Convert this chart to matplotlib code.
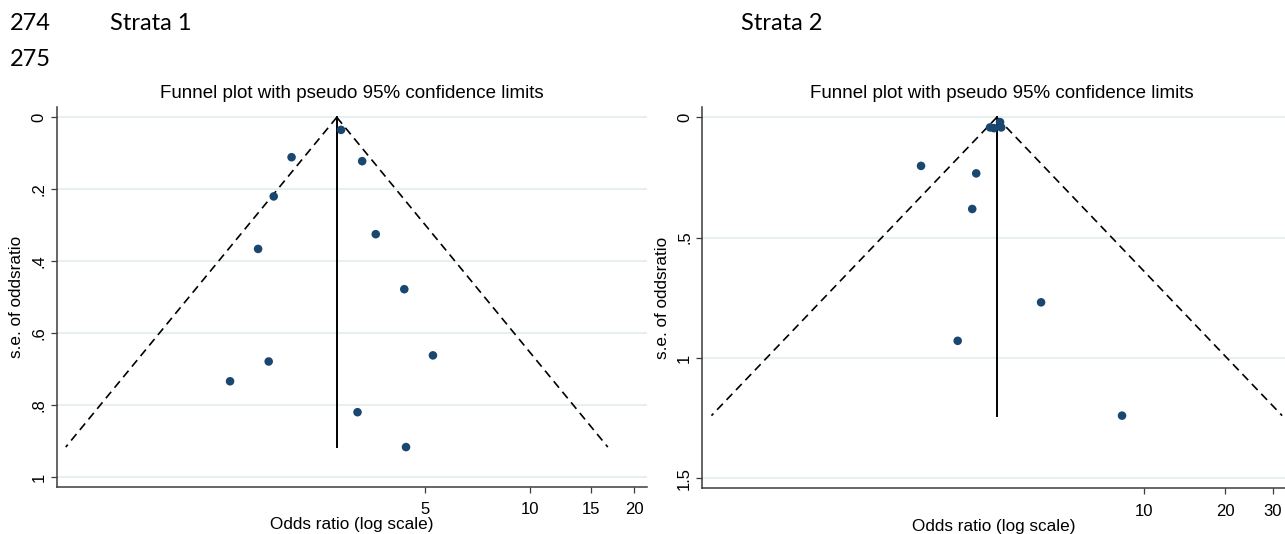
import numpy as np
import matplotlib
matplotlib.use("Agg")
import matplotlib.pyplot as plt
from matplotlib.ticker import NullLocator, FixedLocator, FixedFormatter

# Study estimates: odds ratios and their standard errors
strata1_or = [2.86, 2.06, 3.29, 1.83, 3.60, 1.65, 4.35, 5.26, 1.77, 1.37, 3.19, 4.40]
strata1_se = [0.035, 0.111, 0.122, 0.220, 0.325, 0.366, 0.478, 0.662, 0.679, 0.734, 0.820, 0.917]
strata1_pooled_or = 2.78

strata2_or = [2.70, 2.79, 2.94, 2.97, 1.50, 2.40, 2.32, 4.17, 2.05, 8.31]
strata2_se = [0.042, 0.045, 0.020, 0.042, 0.202, 0.233, 0.381, 0.769, 0.929, 1.240]
strata2_pooled_or = 2.86

strata1_xticks = [5, 10, 15, 20]
strata1_yticks = [0, 0.2, 0.4, 0.6, 0.8, 1.0]
strata1_yticklabels = ["0", ".2", ".4", ".6", ".8", "1"]

strata2_xticks = [10, 20, 30]
strata2_yticks = [0, 0.5, 1.0, 1.5]
strata2_yticklabels = ["0", ".5", "1", "1.5"]

title_text = "Funnel plot with pseudo 95% confidence limits"
xlabel_text = "Odds ratio (log scale)"
ylabel_text = "s.e. of oddsratio"

W, H = 1285, 534
fig = plt.figure(figsize=(W / 100, H / 100), dpi=100)
fig.patch.set_facecolor("white")

CHART_FONT = ["Liberation Sans", "DejaVu Sans"]
DOC_FONT = ["Lato", "DejaVu Sans"]
NAVY = "#1a476f"
GRID = "#e8eff1"
AXCOL = "#3c3c3c"


def px_axes(x0, x1, y0, y1):
    return fig.add_axes([x0 / W, 1 - y1 / H, (x1 - x0) / W, (y1 - y0) / H])


def funnel(ax, ors, ses, pooled, xlim, ylim, xticks, yticks, yticklabels, title_x):
    ors = np.asarray(ors)
    ses = np.asarray(ses)
    se_max = ses.max()
    se_line = np.array([0.0, se_max])
    lo = np.exp(np.log(pooled) - 1.96 * se_line)
    hi = np.exp(np.log(pooled) + 1.96 * se_line)

    ax.set_xscale("log")
    ax.set_xlim(*xlim)
    ax.set_ylim(*ylim)

    for t in yticks:
        ax.axhline(t, color=GRID, lw=1.5, zorder=0)

    ax.plot(lo, se_line, color="black", lw=1.2, ls=(0, (5, 3.2)), zorder=2)
    ax.plot(hi, se_line, color="black", lw=1.2, ls=(0, (5, 3.2)), zorder=2)
    ax.plot([pooled, pooled], se_line, color="black", lw=1.4, zorder=2)
    ax.scatter(ors, ses, s=38, color=NAVY, edgecolors="none", zorder=3)

    ax.xaxis.set_major_locator(FixedLocator(xticks))
    ax.xaxis.set_major_formatter(FixedFormatter([str(t) for t in xticks]))
    ax.xaxis.set_minor_locator(NullLocator())
    ax.yaxis.set_major_locator(FixedLocator(yticks))
    ax.yaxis.set_major_formatter(FixedFormatter(yticklabels))
    ax.yaxis.set_minor_locator(NullLocator())

    for s in ("top", "right"):
        ax.spines[s].set_visible(False)
    for s in ("left", "bottom"):
        ax.spines[s].set_color(AXCOL)
        ax.spines[s].set_linewidth(1.1)

    ax.tick_params(axis="both", direction="out", length=4.5, width=0.9,
                   color=AXCOL, labelsize=12)
    ax.tick_params(axis="x", pad=6.5)
    ax.tick_params(axis="y", pad=3)
    for lab in ax.get_xticklabels():
        lab.set_fontfamily(CHART_FONT)
    for lab in ax.get_yticklabels():
        lab.set_fontfamily(CHART_FONT)
        lab.set_rotation(90)
        lab.set_va("center")

    ax.set_xlabel(xlabel_text, fontsize=12.3, family=CHART_FONT, labelpad=0)
    ax.set_ylabel(ylabel_text, fontsize=12.3, family=CHART_FONT, labelpad=5)
    fig.text(title_x / W, 1 - 94 / H, title_text, ha="center", va="center",
             fontsize=13.5, family=CHART_FONT)


ax1 = px_axes(56.7, 647, 107.3, 487)
ax1.invert_yaxis()
funnel(ax1, strata1_or, strata1_se, strata1_pooled_or,
       (0.434, 21.75), (1.028, -0.0278),
       strata1_xticks, strata1_yticks, strata1_yticklabels, 352)

ax2 = px_axes(702.5, 1285, 106.7, 488.3)
funnel(ax2, strata2_or, strata2_se, strata2_pooled_or,
       (0.2332, 33.3), (1.542, -0.0441),
       strata2_xticks, strata2_yticks, strata2_yticklabels, 1002)

# Document headings around the figures
fig.text(10 / W, 1 - 23 / H, "274", fontsize=17, family=DOC_FONT, va="center")
fig.text(110 / W, 1 - 23 / H, "Strata 1", fontsize=17, family=DOC_FONT, va="center")
fig.text(10 / W, 1 - 59 / H, "275", fontsize=17, family=DOC_FONT, va="center")
fig.text(741 / W, 1 - 23 / H, "Strata 2", fontsize=17, family=DOC_FONT, va="center")

fig.savefig("out.png", dpi=100, facecolor="white")
